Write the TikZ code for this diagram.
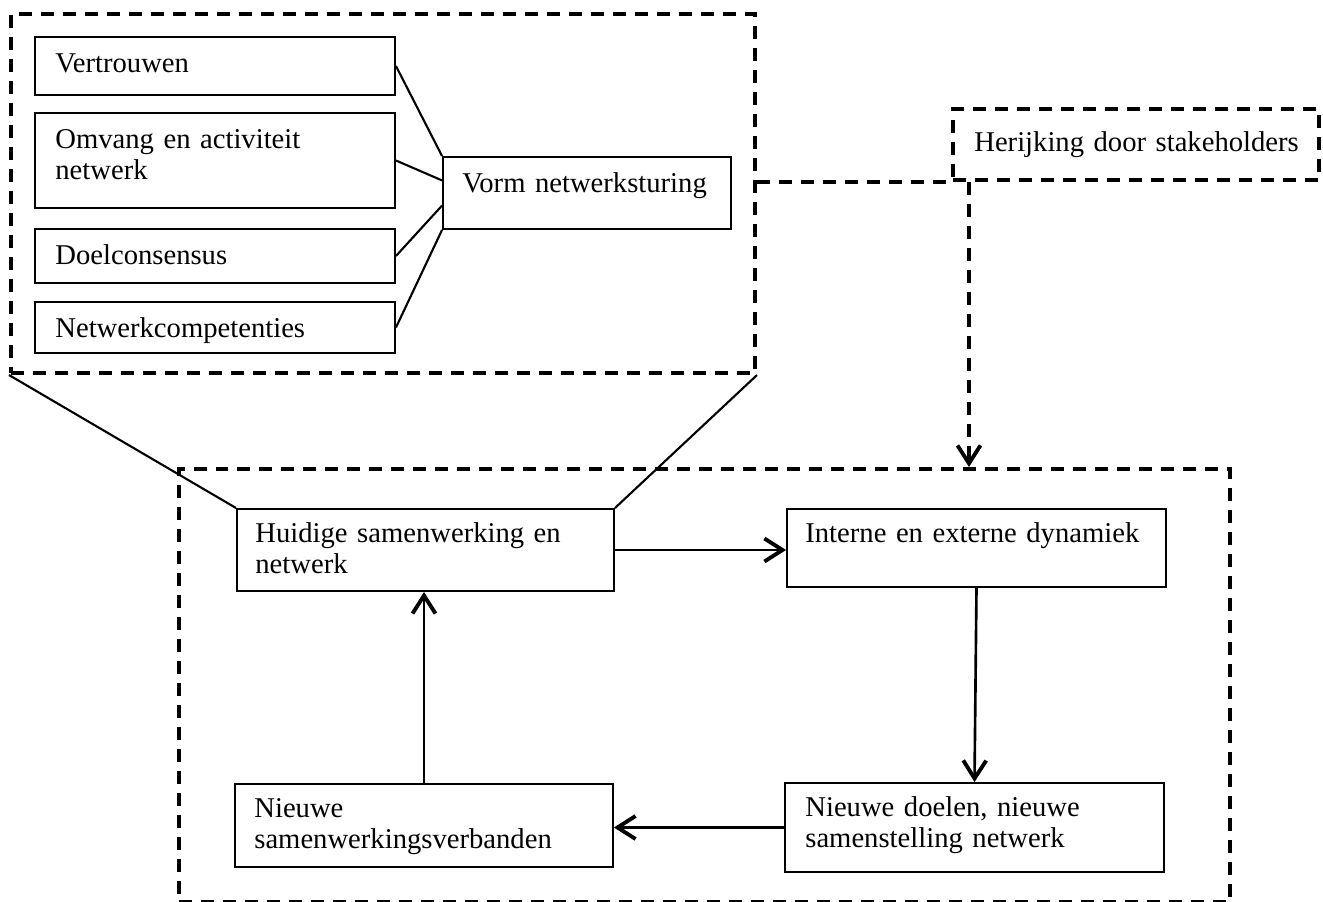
\documentclass[tikz,border=0pt]{standalone}
\usepackage{fontspec}
\setmainfont{Liberation Serif}
\usetikzlibrary{arrows.meta,fit,calc}
\begin{document}
\begin{tikzpicture}[x=0.02cm,y=-0.02cm,
  box/.style={draw, line width=1.1pt, inner sep=0pt},
  dbox/.style={draw, line width=2.3pt, dash pattern=on 2.6mm off 1.8mm, inner sep=0pt},
  txt/.style={anchor=base west, inner sep=0pt, text width=7.5cm, align=left, font=\fontsize{16.3}{17.9}\selectfont},
  link/.style={line width=1.2pt},
  tipb/.style={-{Straight Barb[length=3.6mm,width=4.6mm,line width=2.2pt]}},
  flow/.style={line width=1.5pt, tipb},
  dlink/.style={line width=2.3pt, dash pattern=on 2.6mm off 1.8mm},
]
\useasboundingbox (0,0) rectangle (1323,902);

% dashed frames
\node[dbox, fit={(11,14) (755,373)}] (top) {};
\node[dbox, fit={(953,109) (1319,180)}] (her) {};
\node[dbox, fit={(179,469) (1230,902)}] (big) {};

% factor boxes
\node[box, fit={(35,37) (395,95)}] (b1) {};
\node[box, fit={(35,113) (395,208)}] (b2) {};
\node[box, fit={(35,229) (395,283)}] (b3) {};
\node[box, fit={(35,302) (395,353)}] (b4) {};
\node[box, fit={(443,157) (731,229)}] (vorm) {};

\node[txt] (t1) at ($(b1.north west)+(21,36)$) {Vertrouwen};
\node[txt] (t2) at ($(b2.north west)+(21,36)$) {Omvang en activiteit\\netwerk};
\node[txt] (t3) at ($(b3.north west)+(21,36)$) {Doelconsensus};
\node[txt] (t4) at ($(b4.north west)+(21,36)$) {Netwerkcompetenties};
\node[txt] (t5) at ($(vorm.north west)+(20,36)$) {Vorm netwerksturing};
\node[txt] (t6) at ($(her.north west)+(23,45)$) {Herijking door stakeholders};

% cycle boxes
\node[box, fit={(237,509) (614,591)}] (hu) {};
\node[box, fit={(787,509) (1166,587)}] (in) {};
\node[box, fit={(785,783) (1164,872)}] (nd) {};
\node[box, fit={(235,784) (613,867)}] (ns) {};

\node[txt] (t7) at ($(hu.north west)+(19,34)$) {Huidige samenwerking en\\netwerk};
\node[txt] (t8) at ($(in.north west)+(19,34)$) {Interne en externe dynamiek};
\node[txt] (t9) at ($(nd.north west)+(21,34)$) {Nieuwe doelen, nieuwe\\samenstelling netwerk};
\node[txt] (t10) at ($(ns.north west)+(20,34)$) {Nieuwe\\samenwerkingsverbanden};

% links to Vorm netwerksturing
\draw[link] (b1.east) -- (vorm.north west);
\draw[link] (b2.east) -- ($(vorm.north west)!0.33!(vorm.south west)$);
\draw[link] (b3.east) -- ($(vorm.north west)!0.67!(vorm.south west)$);
\draw[link] (b4.east) -- (vorm.south west);

% zoom lines
\draw[link] (top.south west) -- (hu.north west);
\draw[link] (top.south east) -- (hu.north east);

% dashed connections
\draw[dlink] (top.east |- her.south west) -- (her.south west);
\coordinate (hd) at ($(her.south west)+(18,0)$);
\draw[dlink, tipb] (hd) -- (hd |- big.north);

% cycle
\draw[flow] (hu.east) -- (hu.east -| in.west);
\draw[flow] (in.south) -- (nd.north);
\draw[flow] (nd.west) -- (nd.west -| ns.east);
\draw[flow] (ns.north) -- (ns.north |- hu.south);
\end{tikzpicture}
\end{document}
